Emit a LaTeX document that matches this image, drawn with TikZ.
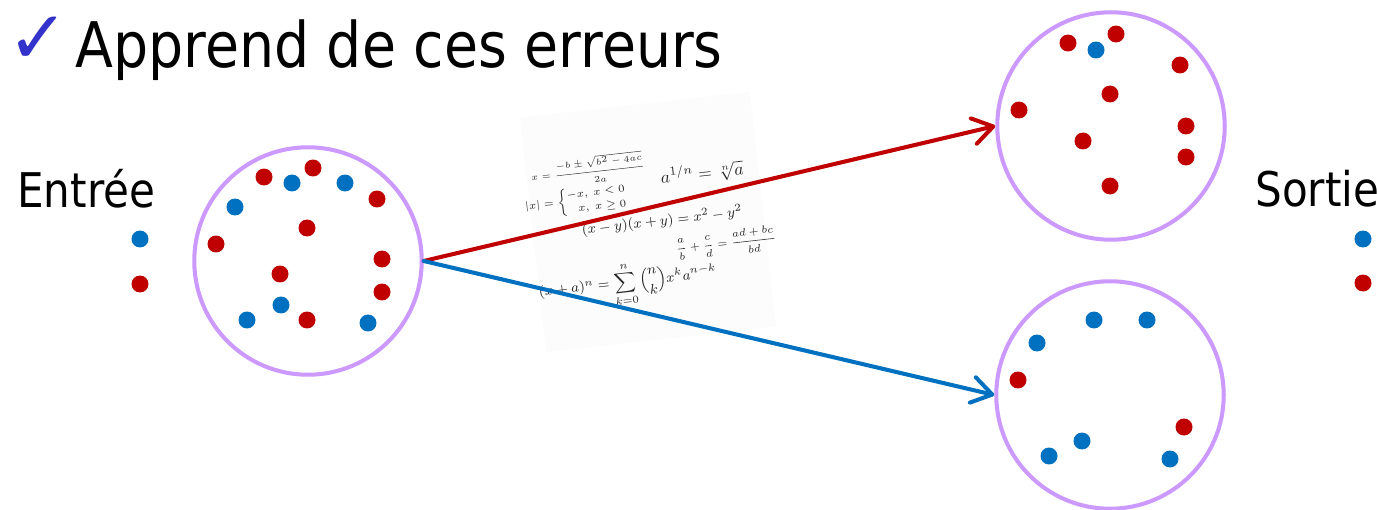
\documentclass[tikz,border=0pt]{standalone}
\usepackage{amsmath}
\usepackage[no-math]{fontspec}
\setmainfont{DejaVu Sans}[FakeStretch=0.88]
\newfontfamily\symbfont{DejaVu Sans}
\usetikzlibrary{arrows.meta}

\definecolor{rouge}{HTML}{C00000}
\definecolor{bleu}{HTML}{0070C0}
\definecolor{lilas}{HTML}{CC99FF}
\definecolor{coche}{HTML}{3333CC}

\tikzset{
  ensemble/.style={circle,draw=lilas,line width=2.3pt,minimum size=4.55cm,inner sep=0pt},
  fleche/.style={line width=2.3pt,line cap=round,-{Straight Barb[length=4mm,width=5.2mm,round]}},
  formule/.style={rotate=6.4,inner sep=0pt,text=black!85},
  etiquette/.style={anchor=base west,inner sep=0pt,font=\fontsize{27.2}{30}\selectfont}
}

\begin{document}
\begin{tikzpicture}[x=0.02cm,y=-0.02cm]
\useasboundingbox (0,0) rectangle (1377,510);

% titre
\node[inner sep=0pt,text=coche,font=\symbfont\fontsize{42}{42}\selectfont] (coche) at (38,40) {✓};
\node[anchor=base west,inner sep=0pt,font=\fontsize{35.8}{40}\selectfont] (titre) at (75,68) {Apprend de ces erreurs};

% entree / sortie
\node[etiquette] (entree) at (17,208) {Entrée};
\node[etiquette] (sortie) at (1255,207) {Sortie};
\fill[bleu] (140,239) circle (0.17cm);
\fill[rouge] (140,284) circle (0.17cm);
\fill[bleu] (1363,239) circle (0.17cm);
\fill[rouge] (1363,283) circle (0.17cm);

% image des formules
\node[rotate=6.4,fill=black!1,minimum width=4.63cm,minimum height=4.73cm,inner sep=0pt] (formules) at (648,222) {};
\node[formule,font=\fontsize{5.3}{6}\selectfont] (f1) at (588,170) {$x=\dfrac{-b\pm\sqrt{b^2-4ac}}{2a}$};
\node[formule] (f2) at (702,173) {$a^{1/n}=\sqrt[n]{a}$};
\node[formule,font=\fontsize{6.5}{7}\selectfont] (f3) at (582,201) {\renewcommand\arraystretch{0.75}$|x|=\begin{cases}-x,\ x<0\\ \phantom{-}x,\ x\geq0\end{cases}$};
\node[formule,font=\footnotesize] (f4) at (662,221) {$(x-y)(x+y)=x^2-y^2$};
\node[formule,font=\fontsize{6.5}{7}\selectfont] (f5) at (726,243) {$\dfrac{a}{b}+\dfrac{c}{d}=\dfrac{ad+bc}{bd}$};
\node[formule,font=\footnotesize] (f6) at (628,284) {$(x+a)^n=\displaystyle\sum_{k=0}^{n}\binom{n}{k}x^ka^{n-k}$};

% ensembles
\node[ensemble] (depart) at (308,261) {};
\node[ensemble] (haut) at (1111,126) {};
\node[ensemble] (bas) at (1110,395) {};

\foreach \p in {(264,177),(313,168),(377,199),(307,228),(216,244),(382,259),(280,274),(382,292),(307,320),
                (1068,43),(1116,34),(1180,65),(1110,94),(1019,110),(1186,126),(1083,141),(1186,157),(1110,186),
                (1018,380),(1184,427)}
  \fill[rouge] \p circle (0.17cm);
\foreach \p in {(292,183),(345,183),(235,207),(281,305),(247,320),(368,323),
                (1096,50),
                (1094,320),(1147,320),(1037,343),(1082,441),(1049,456),(1170,459)}
  \fill[bleu] \p circle (0.17cm);

% fleches
\draw[fleche,rouge] (depart.east) -- (haut.west);
\draw[fleche,bleu] (depart.east) -- (bas.west);
\end{tikzpicture}
\end{document}
